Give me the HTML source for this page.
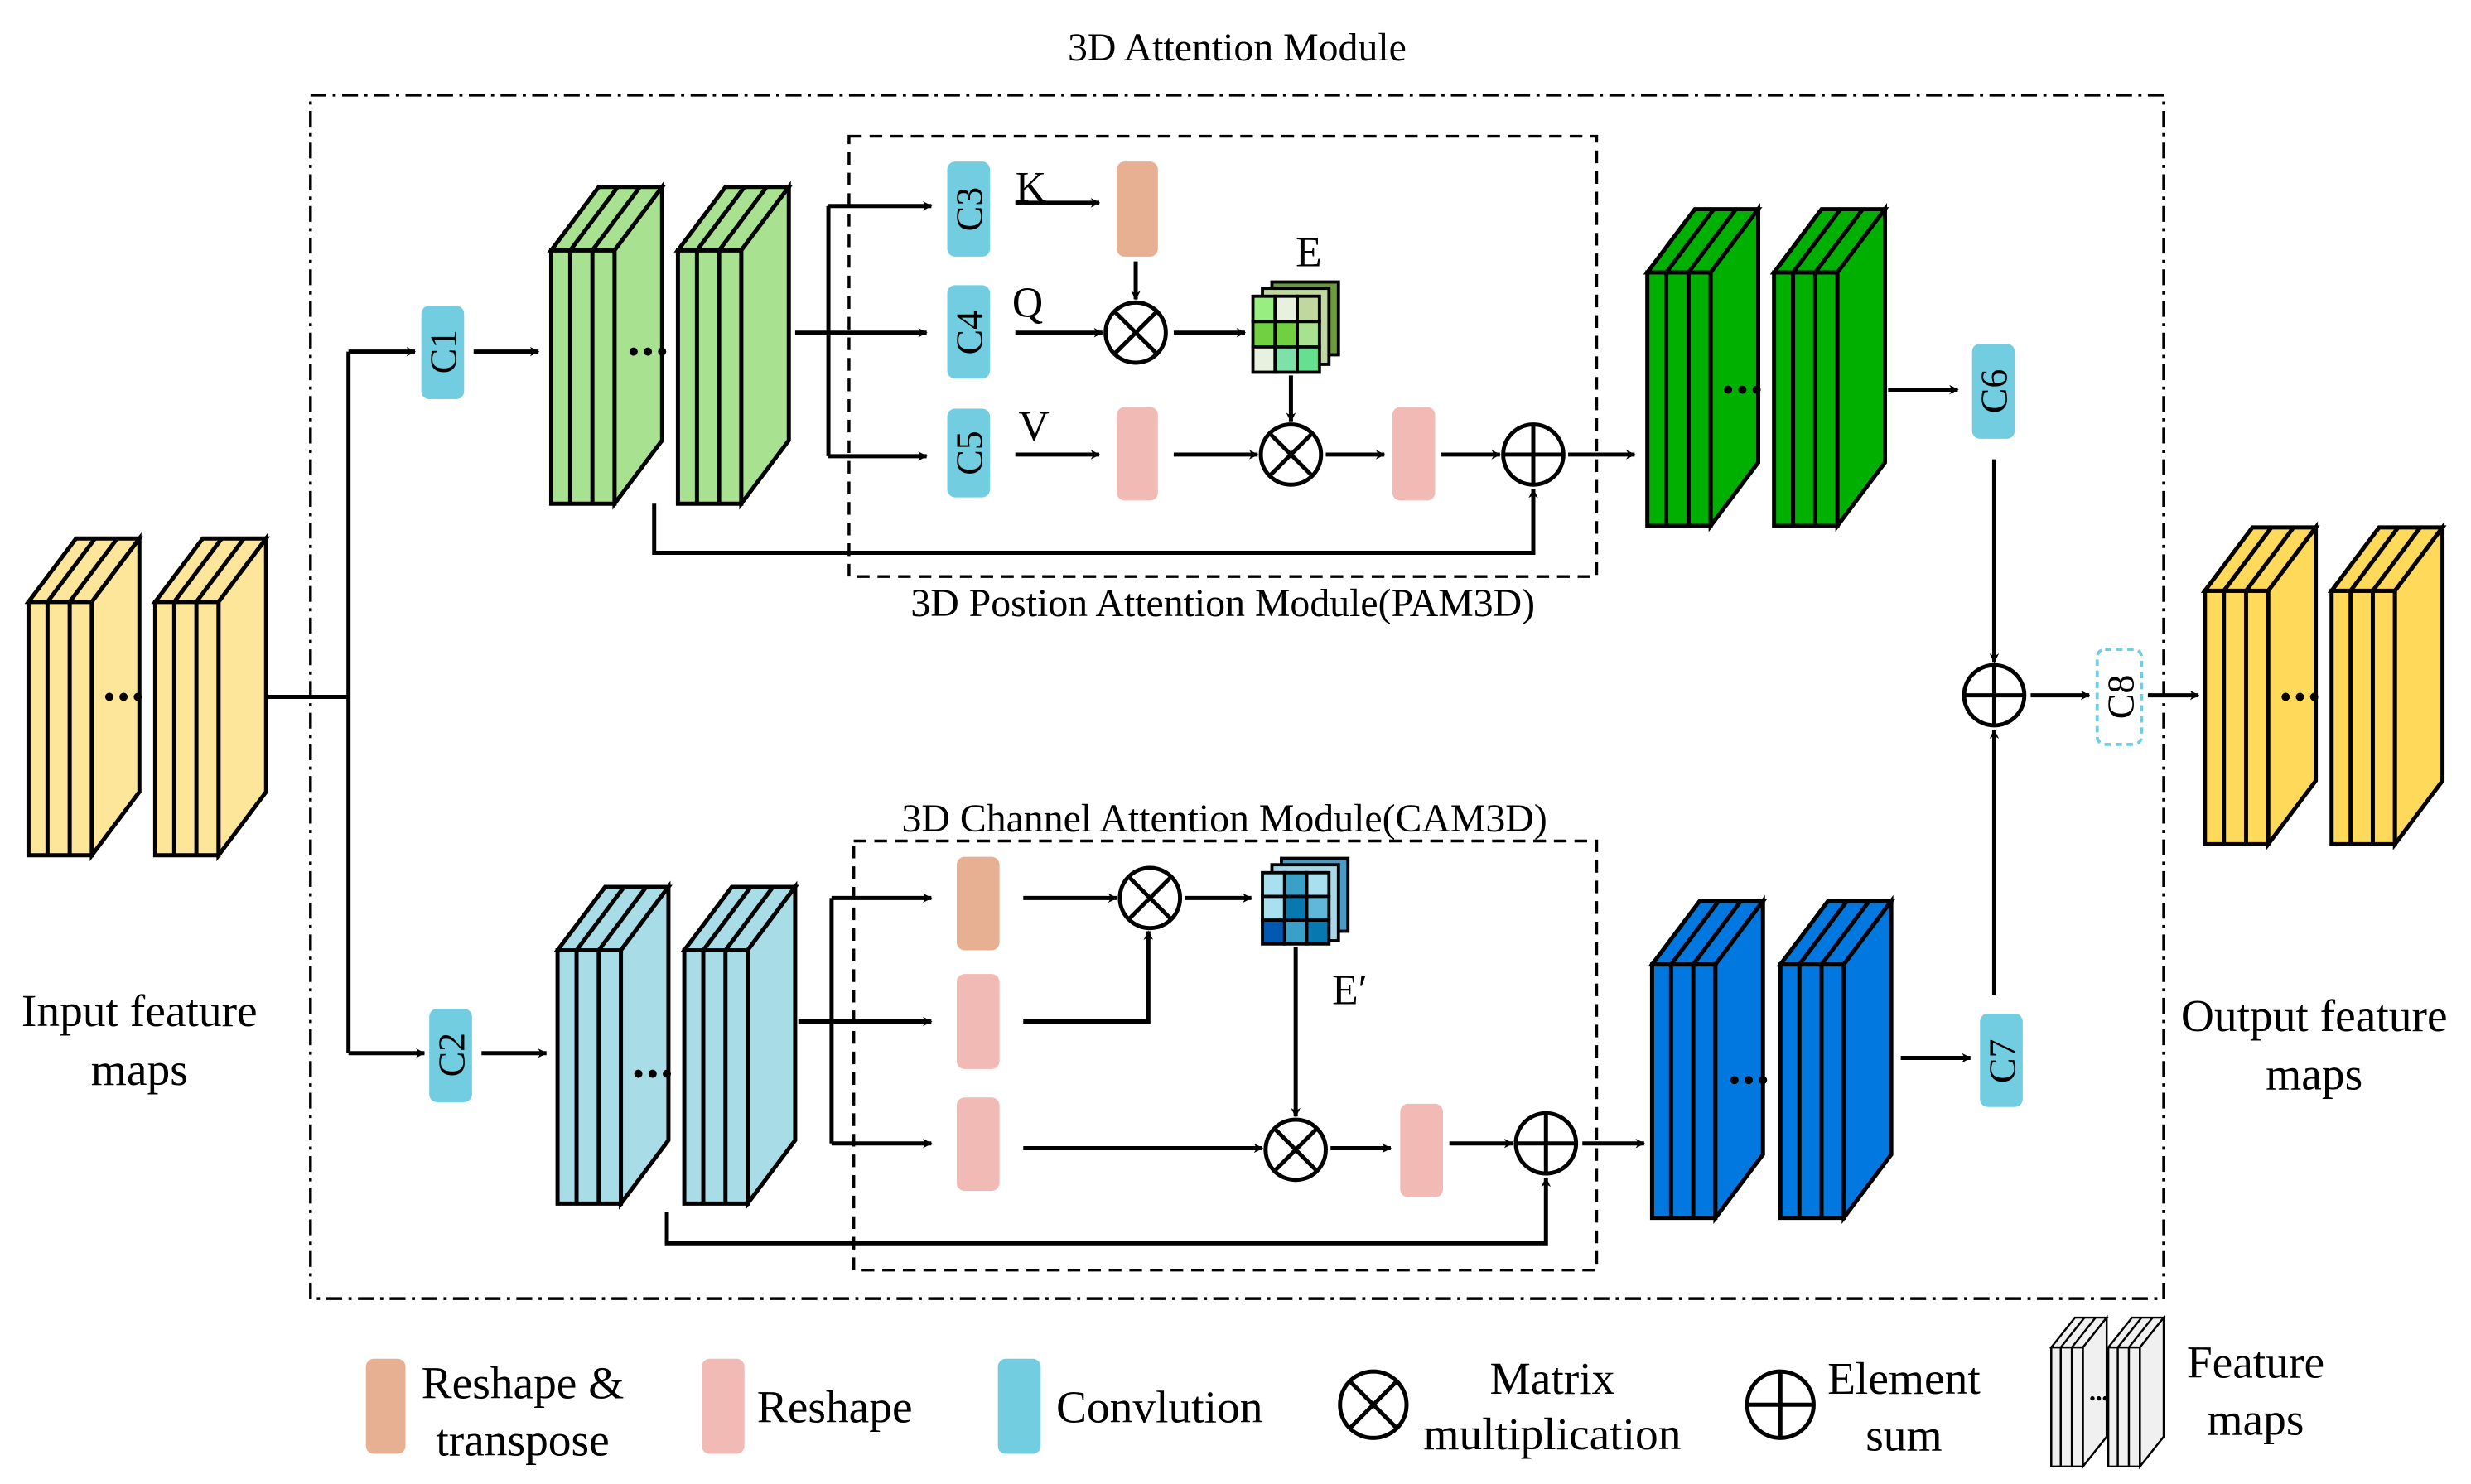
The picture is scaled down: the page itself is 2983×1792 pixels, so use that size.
<!DOCTYPE html>
<html><head><meta charset="utf-8"><style>
html,body{margin:0;padding:0;background:#fff;}
svg{display:block;}
text{font-family:"Liberation Serif",serif;fill:#000;}
</style></head><body>
<svg width="2983" height="1792" viewBox="0 0 1560 937" xmlns="http://www.w3.org/2000/svg">
<defs>
<marker id="ar" viewBox="0 0 10 10" refX="9" refY="5" markerWidth="6" markerHeight="6" orient="auto" markerUnits="userSpaceOnUse">
<path d="M0,0 L10,5 L0,10 L3,5 z" fill="#000"/></marker>
<g id="stk" stroke="#000" stroke-width="2.6" stroke-linejoin="miter" fill="currentColor">
<polygon points="0,40 40,40 40,200 0,200"/>
<polygon points="0,40 30,0 70,0 40,40"/>
<polygon points="40,40 70,0 70,160 40,200"/>
<line x1="12" y1="40" x2="12" y2="200"/><line x1="26" y1="40" x2="26" y2="200"/>
<line x1="12" y1="40" x2="42" y2="0"/><line x1="26" y1="40" x2="56" y2="0"/>
</g>
<g id="dots" fill="#000"><circle cx="0" cy="0" r="2.6"/><circle cx="9" cy="0" r="2.6"/><circle cx="18" cy="0" r="2.6"/></g>
</defs>
<style>
.l{stroke:#000;stroke-width:2.6;fill:none;}
.a{stroke:#000;stroke-width:2.6;fill:none;marker-end:url(#ar);}
.cv{fill:#72cde0;}
.t22{font-size:25px;}
.t26{font-size:29px;}
.tc{font-size:24px;}
</style>

<rect x="196" y="60" width="1170" height="760" fill="none" stroke="#000" stroke-width="1.8" stroke-dasharray="10,4,2,4"/>
<rect x="536" y="86" width="472" height="278" fill="none" stroke="#000" stroke-width="1.8" stroke-dasharray="8,5"/>
<rect x="539" y="531" width="469" height="271" fill="none" stroke="#000" stroke-width="1.8" stroke-dasharray="8,5"/>

<text x="781" y="38" class="t22" text-anchor="middle">3D Attention Module</text>
<text x="772" y="389" class="t22" text-anchor="middle">3D Postion Attention Module(PAM3D)</text>
<text x="773" y="525" class="t22" text-anchor="middle">3D Channel Attention Module(CAM3D)</text>

<use href="#stk" x="18" y="340" style="color:#fde59a"/>
<use href="#stk" x="98" y="340" style="color:#fde59a"/>
<use href="#dots" x="69" y="440"/>
<use href="#stk" x="348" y="118" style="color:#a8e290"/>
<use href="#stk" x="428" y="118" style="color:#a8e290"/>
<use href="#dots" x="400" y="222"/>
<use href="#stk" x="1040" y="132" style="color:#00b000"/>
<use href="#stk" x="1120" y="132" style="color:#00b000"/>
<use href="#dots" x="1091" y="246"/>
<use href="#stk" x="352" y="560" style="color:#a8dde8"/>
<use href="#stk" x="432" y="560" style="color:#a8dde8"/>
<use href="#dots" x="403" y="678"/>
<use href="#stk" x="1043" y="569" style="color:#0078e0"/>
<use href="#stk" x="1124" y="569" style="color:#0078e0"/>
<use href="#dots" x="1095" y="682"/>
<use href="#stk" x="1392" y="333" style="color:#ffd95a"/>
<use href="#stk" x="1472" y="333" style="color:#ffd95a"/>
<use href="#dots" x="1443" y="440"/>

<rect class="cv" x="266" y="193" width="27" height="59" rx="5"/>
<rect class="cv" x="271" y="637" width="27" height="59" rx="5"/>
<rect class="cv" x="598" y="102" width="27" height="60" rx="5"/>
<rect class="cv" x="598" y="180" width="27" height="59" rx="5"/>
<rect class="cv" x="598" y="258" width="27" height="56" rx="5"/>
<rect class="cv" x="1245" y="217" width="27" height="60" rx="5"/>
<rect class="cv" x="1250" y="640" width="27" height="59" rx="5"/>
<rect x="1324" y="410" width="28" height="60" rx="5" fill="none" stroke="#72cde0" stroke-width="2" stroke-dasharray="4,3"/>
<g class="tc">
<text transform="translate(288,222) rotate(-90)" text-anchor="middle">C1</text>
<text transform="translate(293,666) rotate(-90)" text-anchor="middle">C2</text>
<text transform="translate(620,132) rotate(-90)" text-anchor="middle">C3</text>
<text transform="translate(620,210) rotate(-90)" text-anchor="middle">C4</text>
<text transform="translate(620,286) rotate(-90)" text-anchor="middle">C5</text>
<text transform="translate(1267,247) rotate(-90)" text-anchor="middle">C6</text>
<text transform="translate(1272,670) rotate(-90)" text-anchor="middle">C7</text>
<text transform="translate(1347,440) rotate(-90)" text-anchor="middle">C8</text>
</g>

<rect x="705" y="102" width="26" height="60" rx="5" fill="#e8b093"/>
<rect x="705" y="257" width="26" height="59" rx="5" fill="#f2bab5"/>
<rect x="879" y="257" width="27" height="59" rx="5" fill="#f2bab5"/>
<rect x="604" y="541" width="27" height="59" rx="5" fill="#e8b093"/>
<rect x="604" y="615" width="27" height="60" rx="5" fill="#f2bab5"/>
<rect x="604" y="693" width="27" height="59" rx="5" fill="#f2bab5"/>
<rect x="884" y="697" width="27" height="59" rx="5" fill="#f2bab5"/>

<g stroke="#000" stroke-width="2">
<rect x="803" y="178" width="42" height="46" fill="#6b9a3a"/>
<rect x="797" y="182" width="42" height="48" fill="#c0d8a0"/>
<g transform="translate(791,187)">
<rect x="0" y="0" width="14" height="16" fill="#98ee80"/><rect x="14" y="0" width="14" height="16" fill="#e8f0e0"/><rect x="28" y="0" width="14" height="16" fill="#c0d8a0"/>
<rect x="0" y="16" width="14" height="16" fill="#70d040"/><rect x="14" y="16" width="14" height="16" fill="#70d040"/><rect x="28" y="16" width="14" height="16" fill="#a8e290"/>
<rect x="0" y="32" width="14" height="16" fill="#e8f0e0"/><rect x="14" y="32" width="14" height="16" fill="#7ee2a8"/><rect x="28" y="32" width="14" height="16" fill="#66e090"/>
</g>
<rect x="809" y="542" width="42" height="46" fill="#4a9ac8"/>
<rect x="803" y="546" width="42" height="48" fill="#a8d8e8"/>
<g transform="translate(797,551)">
<rect x="0" y="0" width="14" height="15" fill="#a8e0f0"/><rect x="14" y="0" width="14" height="15" fill="#3aa0c8"/><rect x="28" y="0" width="14" height="15" fill="#a8e0f0"/>
<rect x="0" y="15" width="14" height="15" fill="#a8e0f0"/><rect x="14" y="15" width="14" height="15" fill="#0878b0"/><rect x="28" y="15" width="14" height="15" fill="#60b8d8"/>
<rect x="0" y="30" width="14" height="15" fill="#0058b0"/><rect x="14" y="30" width="14" height="15" fill="#3aa0c8"/><rect x="28" y="30" width="14" height="15" fill="#0878b0"/>
</g>
</g>

<g stroke="#000" stroke-width="2.6" fill="#fff">
<g transform="translate(717,210)"><circle r="19"/><path d="M-13,-13 L13,13 M13,-13 L-13,13"/></g>
<g transform="translate(815,287)"><circle r="19"/><path d="M-13,-13 L13,13 M13,-13 L-13,13"/></g>
<g transform="translate(726,567)"><circle r="19"/><path d="M-13,-13 L13,13 M13,-13 L-13,13"/></g>
<g transform="translate(818,726)"><circle r="19"/><path d="M-13,-13 L13,13 M13,-13 L-13,13"/></g>
<g transform="translate(867,887)"><circle r="21"/><path d="M-15,-15 L15,15 M15,-15 L-15,15"/></g>
<g transform="translate(968,287)"><circle r="19"/><path d="M0,-19 V19 M-19,0 H19"/></g>
<g transform="translate(976,722)"><circle r="19"/><path d="M0,-19 V19 M-19,0 H19"/></g>
<g transform="translate(1259,439)"><circle r="19"/><path d="M0,-19 V19 M-19,0 H19"/></g>
<g transform="translate(1124,887)"><circle r="21"/><path d="M0,-21 V21 M-21,0 H21"/></g>
</g>

<path class="l" d="M168,440 H220 M220,222 V665"/>
<path class="a" d="M220,222 H262"/>
<path class="a" d="M220,665 H268"/>
<path class="a" d="M299,222 H340"/>
<path class="a" d="M304,665 H345"/>
<path class="a" d="M502,210 H585"/>
<path class="l" d="M523,130 V288"/>
<path class="a" d="M523,130 H588"/>
<path class="a" d="M523,288 H585"/>
<path class="a" d="M641,128 H694"/>
<path class="a" d="M717,165 V189"/>
<path class="a" d="M641,210 H696"/>
<path class="a" d="M741,210 H786"/>
<path class="a" d="M815,237 V266"/>
<path class="a" d="M641,287 H694"/>
<path class="a" d="M741,287 H794"/>
<path class="a" d="M837,287 H874"/>
<path class="a" d="M910,287 H947"/>
<path class="a" d="M990,287 H1032"/>
<path class="a" d="M413,318 V349 H968 V309"/>
<path class="a" d="M1192,246 H1236"/>
<path class="a" d="M1259,290 V418"/>
<path class="a" d="M1282,439 H1319"/>
<path class="a" d="M1356,439 H1388"/>
<path class="a" d="M1259,628 V461"/>
<path class="a" d="M504,645 H588"/>
<path class="l" d="M525,567 V722"/>
<path class="a" d="M525,567 H588"/>
<path class="a" d="M525,722 H588"/>
<path class="a" d="M646,567 H705"/>
<path class="a" d="M748,567 H790"/>
<path class="a" d="M646,645 H725 V588"/>
<path class="a" d="M646,725 H797"/>
<path class="a" d="M818,598 V705"/>
<path class="a" d="M840,725 H878"/>
<path class="a" d="M915,722 H955"/>
<path class="a" d="M999,722 H1038"/>
<path class="a" d="M421,765 V785 H976 V744"/>
<path class="a" d="M1200,668 H1244"/>

<g class="t26">
<text x="641" y="127" font-size="27">K</text>
<text x="639" y="200" font-size="27">Q</text>
<text x="643" y="278" font-size="27">V</text>
<text x="818" y="168" font-size="27">E</text>
<text x="841" y="634" font-size="27">E′</text>
<text x="88" y="648" text-anchor="middle">Input feature</text>
<text x="88" y="685" text-anchor="middle">maps</text>
<text x="1461" y="651" text-anchor="middle">Output feature</text>
<text x="1461" y="688" text-anchor="middle">maps</text>
</g>

<rect x="231" y="858" width="25" height="60" rx="5" fill="#e8b093"/>
<rect x="443" y="858" width="27" height="60" rx="5" fill="#f2bab5"/>
<rect x="630" y="858" width="27" height="60" rx="5" fill="#72cde0"/>
<g class="t26">
<text x="330" y="883" text-anchor="middle">Reshape &amp;</text>
<text x="330" y="919" text-anchor="middle">transpose</text>
<text x="527" y="898" text-anchor="middle">Reshape</text>
<text x="732" y="898" text-anchor="middle">Convlution</text>
<text x="980" y="880" text-anchor="middle">Matrix</text>
<text x="980" y="915" text-anchor="middle">multiplication</text>
<text x="1202" y="880" text-anchor="middle">Element</text>
<text x="1202" y="916" text-anchor="middle">sum</text>
<text x="1424" y="870" text-anchor="middle">Feature</text>
<text x="1424" y="906" text-anchor="middle">maps</text>
</g>
<g transform="translate(1295,832) scale(0.5,0.47)"><use href="#stk" style="color:#f0f0f0"/></g>
<g transform="translate(1331,832) scale(0.5,0.47)"><use href="#stk" style="color:#f0f0f0"/></g>
<g fill="#000"><circle cx="1321" cy="883" r="1.4"/><circle cx="1325" cy="883" r="1.4"/><circle cx="1329" cy="883" r="1.4"/></g>
</svg>
</body></html>
